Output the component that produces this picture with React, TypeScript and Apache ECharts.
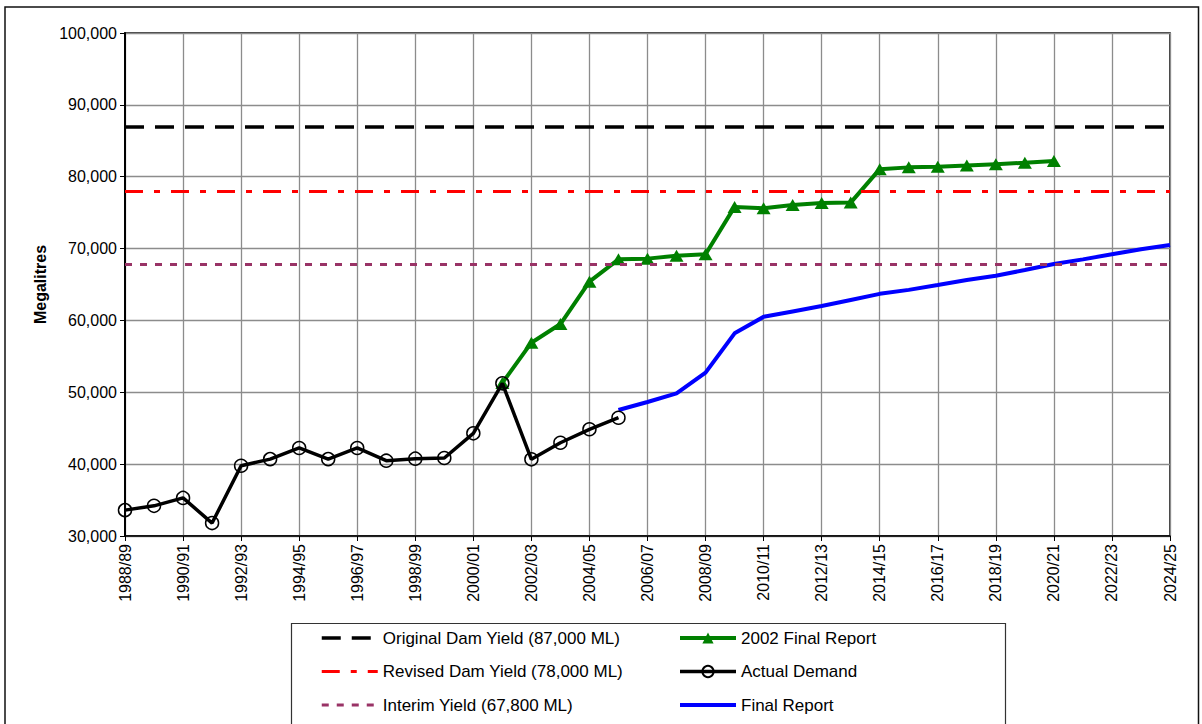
import React, { useEffect, useRef } from "react";
import * as echarts from "echarts";

// Financial years shown along the bottom axis
const categories = [
  "1988/89", "1989/90", "1990/91", "1991/92", "1992/93", "1993/94", "1994/95",
  "1995/96", "1996/97", "1997/98", "1998/99", "1999/00", "2000/01", "2001/02",
  "2002/03", "2003/04", "2004/05", "2005/06", "2006/07", "2007/08", "2008/09",
  "2009/10", "2010/11", "2011/12", "2012/13", "2013/14", "2014/15", "2015/16",
  "2016/17", "2017/18", "2018/19", "2019/20", "2020/21", "2021/22", "2022/23",
  "2023/24", "2024/25",
];

// Yield levels (ML)
const originalYield = 87000;
const revisedYield = 78000;
const interimYield = 67800;

// Actual demand, from 1988/89
const actualDemandStart = 0;
const actualDemand = [
  33600, 34200, 35300, 31800, 39780, 40700, 42250, 40700, 42250, 40480,
  40760, 40850, 44290, 51250, 40670, 42980, 44850, 46460,
];

// 2002 Final Report projection, from 2001/02
const report2002Start = 13;
const report2002 = [
  51300, 56900, 59500, 65400, 68500, 68600, 69000, 69200, 75800, 75600,
  76050, 76350, 76400, 81050, 81300, 81400, 81550, 81750, 81950, 82200,
];

// Final Report projection, from 2005/06
const finalReportStart = 17;
const finalReport = [
  47530, 48650, 49860, 52730, 58200, 60500, 61250, 62000, 62850, 63700,
  64250, 64930, 65620, 66220, 67020, 67850, 68500, 69200, 69900, 70500,
];

const yMin = 30000;
const yMax = 100000;
const yStep = 10000;

const FONT = "'Liberation Sans', Arial, sans-serif";

const fmt = (v: number) => v.toLocaleString("en-US");
const pad = (start: number, values: number[]) =>
  (new Array(start).fill(null) as (number | null)[]).concat(values);

// Horizontal yield level: a marker line with a legend entry drawn as a plain line
const yieldSeries = (name: string, value: number, color: string, width: number, dash: number[]) => ({
  name,
  type: "line",
  data: [],
  symbol: "none",
  itemStyle: { color: "transparent" },
  lineStyle: { color, width, type: dash },
  markLine: {
    silent: true,
    symbol: ["none", "none"],
    label: { show: false },
    lineStyle: { color, width, type: dash },
    data: [{ yAxis: value }],
  },
  z: 1,
});

export default function App() {
  const ref = useRef<HTMLDivElement>(null);

  useEffect(() => {
    const chart = echarts.init(ref.current!, null, { renderer: "svg" });

    const nOriginal = `Original Dam Yield (${fmt(originalYield)} ML)`;
    const nRevised = `Revised Dam Yield (${fmt(revisedYield)} ML)`;
    const nInterim = `Interim Yield (${fmt(interimYield)} ML)`;
    const nReport2002 = "2002 Final Report";
    const nActual = "Actual Demand";
    const nFinal = "Final Report";

    const legendText = { fontFamily: FONT, fontSize: 17, color: "#000", lineHeight: 17 };
    const legendBase = {
      orient: "vertical",
      top: 629.5,
      padding: 0,
      itemWidth: 56,
      itemHeight: 14,
      itemGap: 16.5,
      textStyle: legendText,
      lineStyle: { width: "inherit" },
      selectedMode: false,
    };

    chart.setOption({
      animation: false,
      backgroundColor: "#fff",
      textStyle: { fontFamily: FONT },
      grid: {
        left: 125,
        right: 32,
        top: 33,
        bottom: 188,
        show: true,
        borderColor: "#000",
        borderWidth: 1.5,
        backgroundColor: "transparent",
      },
      graphic: [
        {
          type: "rect",
          shape: { x: 5, y: 7, width: 1193.5, height: 740 },
          style: { fill: "none", stroke: "#111", lineWidth: 1.5 },
          silent: true,
          z: -10,
        },
        {
          type: "rect",
          shape: { x: 291.5, y: 623.5, width: 714, height: 120 },
          style: { fill: "#fff", stroke: "#333", lineWidth: 1.2 },
          silent: true,
          z: -5,
        },
      ],
      legend: [
        { ...legendBase, data: [nOriginal, nRevised, nInterim], left: 320 },
        { ...legendBase, data: [nReport2002, nActual, nFinal], left: 678 },
      ],
      xAxis: {
        type: "category",
        data: categories,
        boundaryGap: false,
        axisLine: { lineStyle: { color: "#000", width: 1.5 } },
        axisTick: { interval: 1, length: 5, lineStyle: { color: "#000", width: 1 } },
        axisLabel: {
          interval: 1,
          rotate: 90,
          fontSize: 16,
          fontFamily: FONT,
          color: "#000",
          margin: 8,
        },
        splitLine: { show: true, interval: 1, lineStyle: { color: "#8c8c8c", width: 1.3 } },
      },
      yAxis: {
        type: "value",
        min: yMin,
        max: yMax,
        interval: yStep,
        name: "Megalitres",
        nameLocation: "middle",
        nameRotate: 90,
        nameGap: 76,
        nameTextStyle: { fontFamily: FONT, fontSize: 16, fontWeight: "bold", color: "#000" },
        axisLine: { show: true, lineStyle: { color: "#000", width: 2 } },
        axisTick: { show: true, length: 5, lineStyle: { color: "#000", width: 1 } },
        axisLabel: {
          fontSize: 16,
          fontFamily: FONT,
          color: "#000",
          margin: 8,
          formatter: (v: number) => fmt(v),
        },
        splitLine: { show: true, lineStyle: { color: "#8c8c8c", width: 1.3 } },
      },
      series: [
        yieldSeries(nOriginal, originalYield, "#000", 3.5, [19, 11]),
        yieldSeries(nRevised, revisedYield, "#ff0000", 3, [18, 11, 6, 11]),
        yieldSeries(nInterim, interimYield, "#993366", 3, [7, 8]),
        {
          name: nFinal,
          type: "line",
          data: pad(finalReportStart, finalReport),
          symbol: "none",
          itemStyle: { color: "transparent" },
          lineStyle: { color: "#0000ff", width: 4 },
          z: 3,
        },
        {
          name: nReport2002,
          type: "line",
          data: pad(report2002Start, report2002),
          symbol: "triangle",
          symbolSize: [14, 12],
          showAllSymbol: true,
          itemStyle: { color: "#008000" },
          lineStyle: { color: "#008000", width: 4 },
          z: 4,
        },
        {
          name: nActual,
          type: "line",
          data: pad(actualDemandStart, actualDemand),
          symbol: "circle",
          symbolSize: 13,
          showAllSymbol: true,
          itemStyle: { color: "transparent", borderColor: "#000", borderWidth: 1.5 },
          lineStyle: { color: "#000", width: 3.5 },
          z: 5,
        },
      ],
    });

    return () => chart.dispose();
  }, []);

  return (
    <div
      ref={ref}
      style={{ position: "fixed", left: 0, top: 0, width: 1202, height: 724, background: "#fff" }}
    />
  );
}
